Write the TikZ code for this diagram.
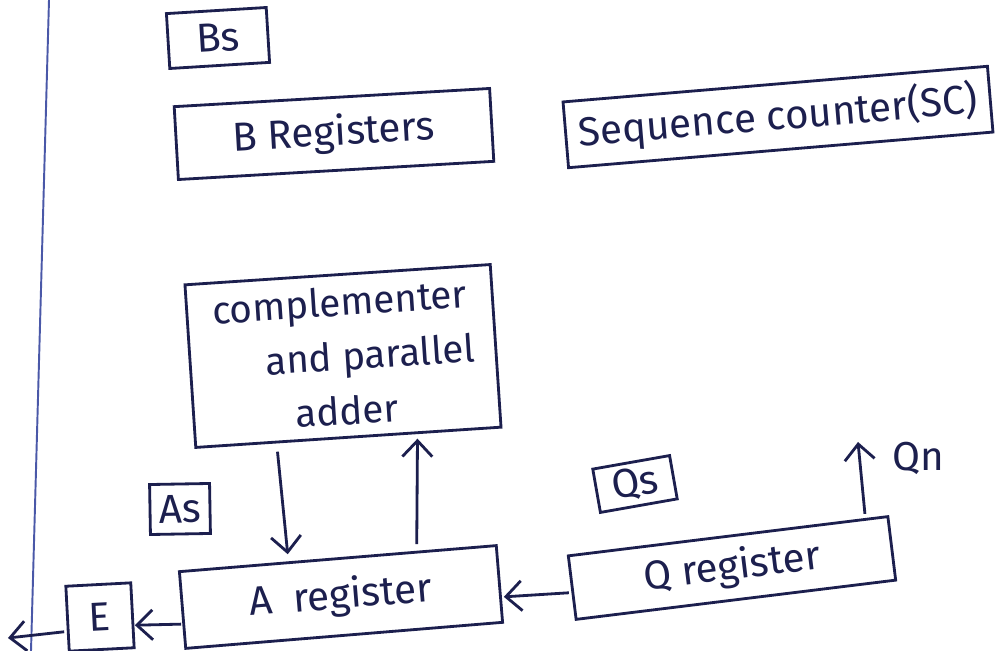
\documentclass[tikz,border=0pt]{standalone}
\usepackage{fontspec}
\setmainfont{Fira Sans}
\usetikzlibrary{arrows.meta,calc}
\definecolor{ink}{HTML}{1C1F4E}
\definecolor{marginblue}{HTML}{4A58A8}
\begin{document}
\begin{tikzpicture}[x=0.02cm,y=-0.02cm,
  box/.style={draw=ink, line width=1.6pt, text=ink, inner sep=0pt,
    font=\fontsize{23}{27}\selectfont},
  arr/.style={draw=ink, line width=1.6pt,
    -{Straight Barb[length=9pt,width=17pt]}},
  lbl/.style={text=ink, inner sep=0pt, font=\fontsize{23}{27}\selectfont}]
\useasboundingbox (0,0) rectangle (995,651);
\fill[white] (0,0) rectangle (995,651);
% page margin rule
\draw[marginblue, line width=1.1pt] (49,0) -- (31,651);

% registers and units
\node[box, rotate=3.5, minimum width=2cm, minimum height=1.1cm] (bs) at (218,38) {Bs};
\node[box, rotate=3.3, minimum width=6.32cm, minimum height=1.46cm] (breg) at (334,134) {B Registers};
\node[box, rotate=4.8, minimum width=8.52cm, minimum height=1.32cm] (sc) at (778,117) {Sequence counter(SC)};
\node[box, rotate=3.8, minimum width=6.12cm, minimum height=3.26cm, align=center,
  font=\fontsize{22}{31}\selectfont] (comp) at (343,356)
  {complementer\\\hspace*{1.4em}and parallel\\adder};
\node[box, rotate=1, minimum width=1.2cm, minimum height=1.0cm] (as) at (180,509) {As};
\node[box, rotate=10, minimum width=1.56cm, minimum height=0.88cm] (qs) at (635,484) {Qs};
\node[box, rotate=7, minimum width=6.44cm, minimum height=1.28cm] (qreg) at (732,568) {Q register};
\node[box, rotate=4.7, minimum width=6.36cm, minimum height=1.54cm] (areg) at (341,597) {A\enspace register};
\node[box, rotate=3, minimum width=1.3cm, minimum height=1.3cm] (e) at (100,617) {E};

% free ends
\coordinate (qnend) at (858,442);
\coordinate (eout) at (8,638);
\node[lbl] (qn) at (918,458) {Qn};

% data paths
\draw[arr] ($(comp.south)+(-71,13)$) -- ($(areg.north)+(-50,-3)$);
\draw[arr] ($(areg.north)+(79,-13)$) -- ($(comp.south)+(69,0)$);
\draw[arr] ($(qreg.west)+(-2,5)$) -- ($(areg.east)+(3,13)$);
\draw[arr] ($(areg.west)+(0,14)$) -- ($(e.east)+(1,10)$);
\draw[arr] ($(e.west)+(-2,13)$) -- (eout);
\draw[arr] ($(qreg.north)+(137,-21)$) -- (qnend);
\end{tikzpicture}
\end{document}
